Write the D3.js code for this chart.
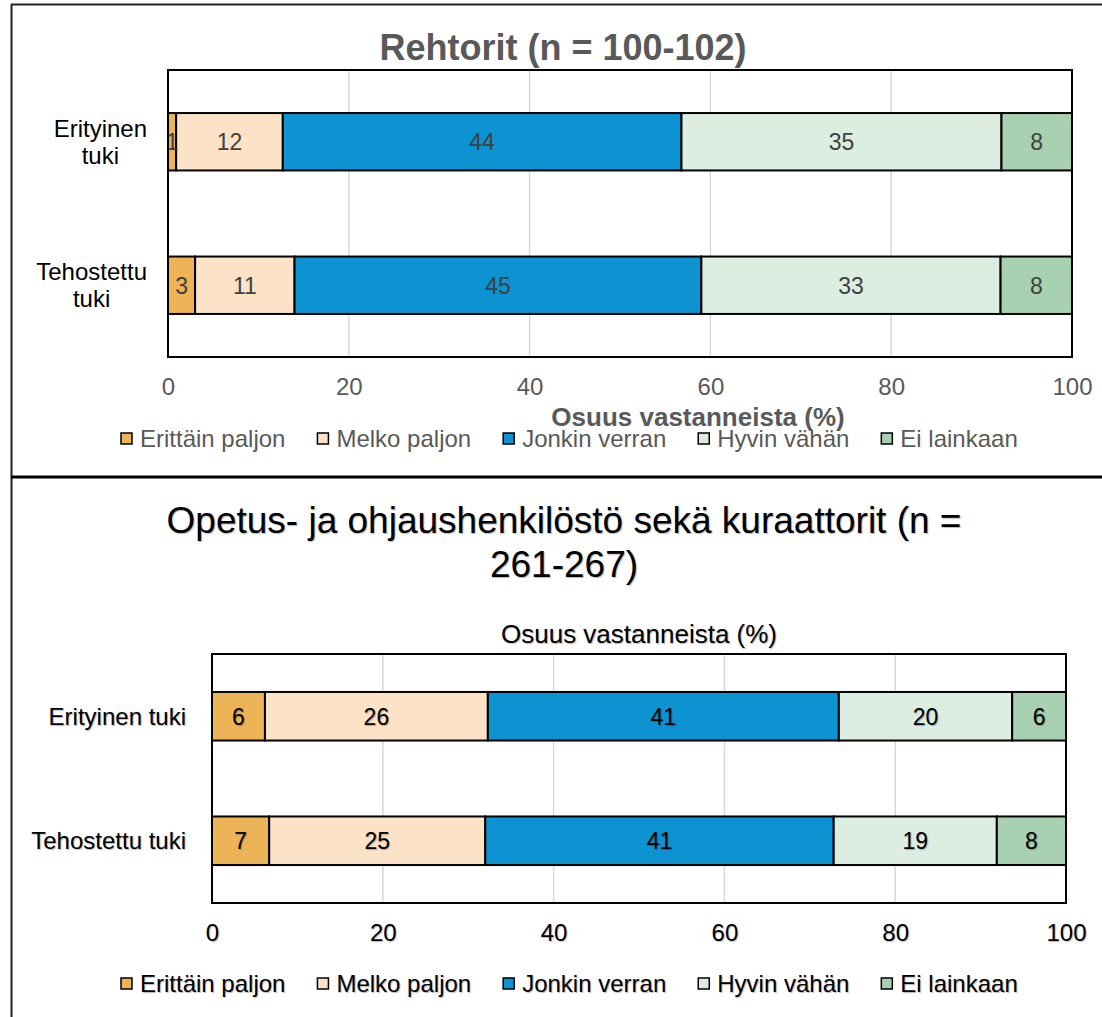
<!DOCTYPE html>
<html>
<head>
<meta charset="utf-8">
<script src="https://cdn.jsdelivr.net/npm/d3@7"></script>
<style>
  html, body { margin: 0; padding: 0; background: #fff; }
  svg { display: block; font-family: "Liberation Sans", Arial, sans-serif; }
  .shadow text { text-shadow: 1px 1px 1px rgba(0,0,0,0.28); }
</style>
</head>
<body>
<svg id="chart" width="1102" height="1017"></svg>
<script>
// ---- data ----
const categories = ["Erityinen tuki", "Tehostettu tuki"];
const seriesNames = ["Erittäin paljon", "Melko paljon", "Jonkin verran", "Hyvin vähän", "Ei lainkaan"];
const seriesColors = ["#EDB457", "#FCE3C7", "#0E93D2", "#DCEDE1", "#A8D1B1"];
const rehtoritErityinen = [0.9, 11.8, 44.1, 35.4, 7.8];
const rehtoritTehostettu = [3.0, 11.0, 45.0, 33.1, 7.9];
const opetusErityinen = [6.2, 26.1, 41.1, 20.3, 6.3];
const opetusTehostettu = [6.7, 25.3, 40.8, 19.1, 8.1];
const xTicks = [0, 20, 40, 60, 80, 100];
const topTitle = "Rehtorit (n = 100-102)";
const bottomTitleLines = ["Opetus- ja ohjaushenkilöstö sekä kuraattorit (n =", "261-267)"];
const axisTitle = "Osuus vastanneista (%)";
const topCategoryLines = [["Erityinen", "tuki"], ["Tehostettu", "tuki"]];

const svg = d3.select("#chart");

// outer frames
svg.append("line").attr("x1", 11).attr("x2", 1102).attr("y1", 4.5).attr("y2", 4.5)
  .attr("stroke", "#222").attr("stroke-width", 2);
svg.append("line").attr("x1", 11.5).attr("x2", 11.5).attr("y1", 4).attr("y2", 1017)
  .attr("stroke", "#222").attr("stroke-width", 2);
svg.append("line").attr("x1", 11).attr("x2", 1102).attr("y1", 477).attr("y2", 477)
  .attr("stroke", "#000").attr("stroke-width", 3);

function drawPanel(g, opt, rows) {
  const x = d3.scaleLinear().domain([0, 100]).range([opt.left, opt.right]);
  const y = d3.scaleBand().domain(categories).range([opt.top, opt.bottom]);
  const barH = y.bandwidth() * opt.barFrac;

  // gridlines
  g.append("g").selectAll("line").data(xTicks.filter(t => t > 0 && t < 100)).join("line")
    .attr("x1", d => x(d)).attr("x2", d => x(d))
    .attr("y1", opt.top).attr("y2", opt.bottom)
    .attr("stroke", "#d9d9d9").attr("stroke-width", 1.5);

  // bars
  const stacked = rows.map((vals, i) => {
    let acc = 0;
    return vals.map((v, j) => { const s = acc; acc += v; return { cat: categories[i], s: s, e: acc, v: v, j: j }; });
  }).flat();

  const yc = d => y(d.cat) + y.bandwidth() / 2;
  g.append("g").selectAll("rect").data(stacked).join("rect")
    .attr("x", d => x(d.s)).attr("width", d => x(d.e) - x(d.s))
    .attr("y", d => yc(d) - barH / 2).attr("height", barH)
    .attr("fill", d => seriesColors[d.j])
    .attr("stroke", "#000").attr("stroke-width", 2);

  g.append("g").selectAll("text").data(stacked).join("text")
    .attr("x", d => (x(d.s) + x(d.e)) / 2)
    .attr("y", d => yc(d) + opt.valueSize * 0.36)
    .attr("text-anchor", "middle")
    .attr("font-size", opt.valueSize)
    .attr("fill", opt.valueColor)
    .text(d => Math.round(d.v));

  // plot border
  g.append("rect").attr("x", opt.left).attr("y", opt.top)
    .attr("width", opt.right - opt.left).attr("height", opt.bottom - opt.top)
    .attr("fill", "none").attr("stroke", "#000").attr("stroke-width", 2);

  // x axis tick labels
  const axis = d3.axisBottom(x).tickValues(xTicks).tickSize(0).tickPadding(0).tickFormat(d3.format("d"));
  const ax = g.append("g").attr("transform", `translate(0,${opt.tickBaseline})`).call(axis);
  ax.select(".domain").remove();
  ax.selectAll("text").attr("font-size", opt.fontSize).attr("fill", opt.textColor)
    .attr("font-family", "Liberation Sans, Arial, sans-serif").attr("dy", 0).attr("y", 0);

  // legend
  const leg = g.append("g");
  let lx = 121;
  seriesNames.forEach((name, i) => {
    leg.append("rect").attr("x", lx).attr("y", opt.legendBaseline - 14).attr("width", 11).attr("height", 11)
      .attr("fill", seriesColors[i]).attr("stroke", "#000").attr("stroke-width", 1.5);
    const t = leg.append("text").attr("x", lx + 19).attr("y", opt.legendBaseline)
      .attr("font-size", opt.fontSize).attr("fill", opt.textColor).text(name);
    lx += 19 + t.node().getComputedTextLength() + 32;
  });
  return { x, y };
}

// ---- top panel ----
const gTop = svg.append("g");
const topRes = drawPanel(gTop, {
  left: 168, right: 1072, top: 70, bottom: 357, barFrac: 0.4,
  valueSize: 23, valueColor: "#404040", fontSize: 24, textColor: "#595959",
  tickBaseline: 395, legendBaseline: 447
}, [rehtoritErityinen, rehtoritTehostettu]);

gTop.append("text").attr("x", 563).attr("y", 60).attr("text-anchor", "middle")
  .attr("font-size", 36).attr("font-weight", "bold").attr("fill", "#595959").text(topTitle);
gTop.append("text").attr("x", 698).attr("y", 426).attr("text-anchor", "middle")
  .attr("font-size", 26).attr("font-weight", "bold").attr("fill", "#595959").text(axisTitle);

// top category labels (two lines, centered block, right edge at 147)
categories.forEach((c, i) => {
  const cy = topRes.y(c) + topRes.y.bandwidth() / 2;
  const lines = topCategoryLines[i];
  const tg = gTop.append("g");
  const texts = lines.map((ln, k) => tg.append("text")
    .attr("y", cy - 13.5 + 8.6 + k * 27).attr("font-size", 24).attr("fill", "#000")
    .attr("text-anchor", "middle").text(ln));
  const w = d3.max(texts, t => t.node().getComputedTextLength());
  texts.forEach(t => t.attr("x", 147 - w / 2));
});

// ---- bottom panel ----
const gBot = svg.append("g").attr("class", "shadow");
const botRes = drawPanel(gBot, {
  left: 212, right: 1066, top: 654, bottom: 903, barFrac: 0.39,
  valueSize: 23, valueColor: "#000", fontSize: 24, textColor: "#000",
  tickBaseline: 941, legendBaseline: 992
}, [opetusErityinen, opetusTehostettu]);

bottomTitleLines.forEach((ln, k) => {
  gBot.append("text").attr("x", 564).attr("y", 533 + k * 44).attr("text-anchor", "middle")
    .attr("font-size", 37).attr("fill", "#000").text(ln);
});
gBot.append("text").attr("x", 639).attr("y", 643).attr("text-anchor", "middle")
  .attr("font-size", 26).attr("fill", "#000").text(axisTitle);

gBot.append("g").selectAll("text").data(categories).join("text")
  .attr("x", 186).attr("y", d => botRes.y(d) + botRes.y.bandwidth() / 2 + 8.6)
  .attr("text-anchor", "end").attr("font-size", 24).attr("fill", "#000").text(d => d);
</script>
</body>
</html>
